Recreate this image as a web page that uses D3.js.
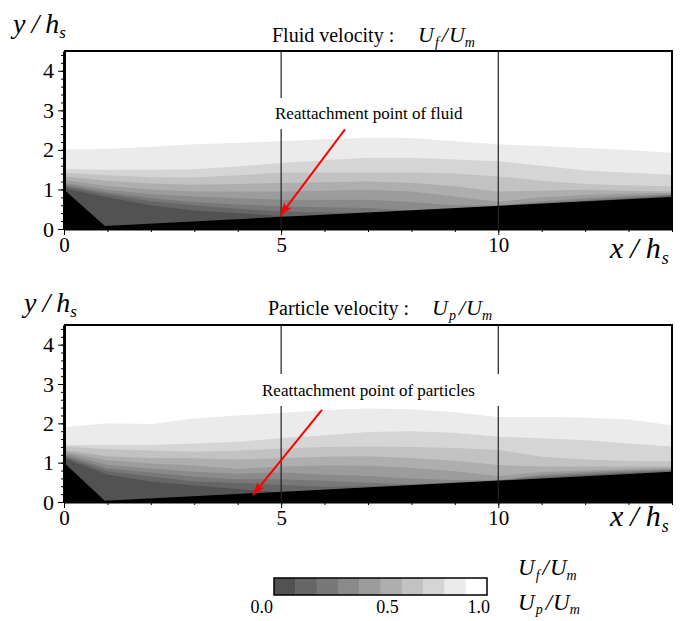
<!DOCTYPE html>
<html><head><meta charset="utf-8">
<script src="https://cdn.jsdelivr.net/npm/d3@7"></script>
<style>
body{margin:0;background:#fff}
svg{display:block}
text{font-family:"Liberation Serif","Times New Roman",serif;fill:#000}
</style>
</head><body>
<svg id="c" width="690" height="621"></svg>
<script>
// ---- data ----
const xStations = [0,1,2,3,4,5,6,7,8,9,10,11,12,13,14];
const levelValues = [0.9,0.8,0.7,0.6,0.5,0.4,0.3,0.2,0.1];
const shadeColors = ["#525252","#666666","#787878","#8a8a8a","#9c9c9c","#aeaeae","#c2c2c2","#d5d5d5","#ebebeb","#ffffff"];
const legendTicks = ["0.0","0.5","1.0"];
const yMajorTicks = [0,1,2,3,4];
const yMinorTicks = d3.range(0,4.51,0.2);
const xMajorTicks = [0,5,10];
const xMinorTicks = d3.range(0,15,1);
const refLines = [5,10];

// fluid velocity contour heights y/hs (U_f/U_m = level) at xStations
const fluid90 = [2.01,2.02,2.08,2.14,2.18,2.22,2.27,2.31,2.30,2.22,2.14,2.10,2.05,2.00,1.93];
const fluid80 = [1.52,1.50,1.50,1.51,1.58,1.67,1.74,1.80,1.80,1.76,1.71,1.60,1.48,1.42,1.37];
const fluid70 = [1.42,1.36,1.31,1.30,1.36,1.42,1.43,1.43,1.43,1.40,1.33,1.22,1.14,1.10,1.08];
const fluid60 = [1.33,1.22,1.15,1.12,1.14,1.16,1.18,1.20,1.17,1.08,0.95,0.97,0.99,0.97,0.95];
const fluid50 = [1.24,1.09,1.00,0.95,0.95,0.95,0.97,0.99,0.95,0.82,0.69,0.80,0.86,0.90,0.91];
const fluid40 = [1.16,0.99,0.88,0.82,0.78,0.74,0.74,0.74,0.68,0.60,0.60,0.70,0.78,0.84,0.88];
const fluid30 = [1.12,0.92,0.78,0.68,0.62,0.57,0.55,0.53,0.47,0.52,0.58,0.66,0.73,0.80,0.86];
const fluid20 = [1.08,0.87,0.70,0.60,0.51,0.44,0.42,0.41,0.44,0.50,0.56,0.64,0.71,0.77,0.84];
const fluid10 = [1.03,0.80,0.60,0.47,0.40,0.33,0.32,0.38,0.42,0.48,0.54,0.62,0.69,0.75,0.82];

// particle velocity contour heights y/hs (U_p/U_m = level)
const part90 = [1.90,2.00,1.98,2.12,2.20,2.26,2.34,2.38,2.36,2.28,2.16,2.16,2.15,2.10,1.95];
const part80 = [1.45,1.45,1.45,1.49,1.53,1.62,1.70,1.78,1.80,1.76,1.66,1.62,1.57,1.49,1.41];
const part70 = [1.41,1.34,1.31,1.28,1.30,1.36,1.40,1.41,1.40,1.37,1.32,1.15,1.08,1.04,1.03];
const part60 = [1.32,1.16,1.12,1.11,1.08,1.11,1.15,1.16,1.12,1.05,0.94,0.90,0.90,0.90,0.90];
const part50 = [1.28,1.06,0.98,0.93,0.84,0.90,0.93,0.92,0.87,0.78,0.66,0.76,0.80,0.84,0.86];
const part40 = [1.24,0.94,0.85,0.77,0.72,0.75,0.70,0.66,0.60,0.56,0.55,0.70,0.76,0.80,0.83];
const part30 = [1.19,0.85,0.75,0.64,0.58,0.58,0.54,0.49,0.45,0.50,0.55,0.66,0.72,0.77,0.81];
const part20 = [1.15,0.78,0.65,0.52,0.48,0.44,0.38,0.40,0.44,0.49,0.54,0.62,0.69,0.74,0.79];
const part10 = [1.11,0.70,0.52,0.42,0.33,0.24,0.30,0.36,0.42,0.47,0.52,0.58,0.64,0.69,0.75];

// wall (step + sloped bed)
const wallX = [0, 0.94, 14];
const fluidWall = [1.0, 0.077, 0.81];
const particleWall = [1.0, 0.03, 0.77];

// reattachment arrows [start, tip] in data units
const fluidArrow = [[6.47,2.52],[4.98,0.34]];
const particleArrow = [[5.94,2.34],[4.35,0.18]];

// ---- drawing ----
const svg = d3.select("#c");
const defs = svg.append("defs");
defs.append("marker").attr("id","ah").attr("viewBox","0 -5 14 10")
  .attr("refX",13).attr("refY",0).attr("markerWidth",14).attr("markerHeight",10)
  .attr("markerUnits","userSpaceOnUse").attr("orient","auto")
  .append("path").attr("d","M0,-4.5L14,0L0,4.5L3,0Z").attr("fill","#ff0000");

function richText(parent, x0, y0, parts) {
  const t = parent.append("text").attr("x", x0).attr("y", y0);
  parts.forEach(p => {
    t.append("tspan").text(p.t)
      .attr("font-size", p.s)
      .attr("font-style", p.i ? "italic" : "normal")
      .attr("dx", p.dx || 0).attr("dy", p.dy || 0);
  });
  return t;
}
function ratio(parent, x0, y0, sub, big, small, drop) {
  const d = drop || 5;
  return richText(parent, x0, y0, [
    {t:"U", s:big, i:true},
    {t:sub, s:small, i:true, dy:d, dx:1},
    {t:"/", s:big, i:true, dy:-d, dx:3},
    {t:"U", s:big, i:true, dx:1},
    {t:"m", s:small, i:true, dy:d}
  ]);
}

function drawPanel(o) {
  const x = d3.scaleLinear().domain([0,14]).range([64,672]);
  const y = d3.scaleLinear().domain([0,4.5]).range([o.bottom, o.top]);
  const g = svg.append("g");
  defs.append("clipPath").attr("id", o.id).append("rect")
    .attr("x", x(0)).attr("y", y(4.5)).attr("width", x(14)-x(0)).attr("height", y(0)-y(4.5));
  const plot = g.append("g").attr("clip-path", `url(#${o.id})`);

  const area = d3.area().x((d,j)=>x(xStations[j])).y0(y(0)).y1(d=>y(d));
  o.bounds.forEach((b,i) => {
    plot.append("path").datum(b).attr("d", area).attr("fill", shadeColors[8-i]);
  });
  const wallArea = d3.area().x((d,j)=>x(wallX[j])).y0(y(0)).y1(d=>y(d));
  plot.append("path").datum(o.wall).attr("d", wallArea).attr("fill", "#000");

  // reference lines
  g.selectAll(null).data(refLines).enter().append("line")
    .attr("x1", d=>x(d)).attr("x2", d=>x(d)).attr("y1", y(4.5)).attr("y2", y(0))
    .attr("stroke", "#222").attr("stroke-width", 1.2);

  // annotation background + text
  g.append("rect").attr("x", o.noteRect[0]).attr("y", o.noteRect[1])
    .attr("width", o.noteRect[2]).attr("height", o.noteRect[3]).attr("fill", "#fff");
  g.append("text").attr("x", o.noteX).attr("y", o.noteY).attr("font-size", 17).text(o.note);

  // arrow
  g.append("line")
    .attr("x1", x(o.arrow[0][0])).attr("y1", y(o.arrow[0][1]))
    .attr("x2", x(o.arrow[1][0])).attr("y2", y(o.arrow[1][1]))
    .attr("stroke", "#ff0000").attr("stroke-width", 2).attr("marker-end", "url(#ah)");

  // frame top/right
  g.append("path")
    .attr("d", `M${x(0)},${y(4.5)}H${x(14)}V${y(0)}`)
    .attr("fill","none").attr("stroke","#000").attr("stroke-width",2);

  // y axis
  const yMin = g.append("g").attr("transform", `translate(${x(0)},0)`)
    .call(d3.axisLeft(y).tickValues(yMinorTicks).tickSize(3).tickSizeOuter(0).tickFormat(""));
  yMin.select(".domain").remove();
  const yMaj = g.append("g").attr("transform", `translate(${x(0)},0)`)
    .call(d3.axisLeft(y).tickValues(yMajorTicks).tickSize(6).tickSizeOuter(0).tickPadding(4).tickFormat(d3.format("d")));
  yMaj.select(".domain").attr("stroke-width", 3);
  yMaj.selectAll("text").attr("font-size", 22).attr("font-family", "Liberation Serif, serif").attr("fill","#000");

  // x axis
  const xMin = g.append("g").attr("transform", `translate(0,${y(0)})`)
    .call(d3.axisBottom(x).tickValues(xMinorTicks).tickSize(3).tickSizeOuter(0).tickFormat(""));
  xMin.select(".domain").attr("stroke-width", 2);
  const xMaj = g.append("g").attr("transform", `translate(0,${y(0)})`)
    .call(d3.axisBottom(x).tickValues(xMajorTicks).tickSize(6).tickSizeOuter(0).tickPadding(2).tickFormat(d3.format("d")));
  xMaj.select(".domain").remove();
  xMaj.selectAll("text").attr("font-size", 21).attr("font-family", "Liberation Serif, serif").attr("fill","#000");

  // titles
  g.append("text").attr("x", o.titleX).attr("y", o.titleY).attr("font-size", 20).text(o.title);
  ratio(g, o.ratioX, o.titleY, o.sub, 22, 14);

  // axis labels
  richText(g, o.ylabX, o.ylabY, [
    {t:"y", s:28, i:true},
    {t:"/", s:28, i:true, dx:6},
    {t:"h", s:28, i:true, dx:6},
    {t:"s", s:17, i:true, dy:5}
  ]);
  richText(g, 610, o.xlabY, [
    {t:"x", s:30, i:true},
    {t:"/", s:30, i:true, dx:7},
    {t:"h", s:30, i:true, dx:7},
    {t:"s", s:18, i:true, dy:6, dx:1}
  ]);
}

drawPanel({
  id:"clipF", top:51, bottom:229,
  bounds:[fluid90,fluid80,fluid70,fluid60,fluid50,fluid40,fluid30,fluid20,fluid10],
  wall:fluidWall, arrow:fluidArrow,
  note:"Reattachment point of fluid", noteX:275, noteY:119, noteRect:[270,98,200,31],
  title:"Fluid velocity :", titleX:272, titleY:42, ratioX:418, sub:"f",
  ylabX:13, ylabY:33, xlabY:258
});
drawPanel({
  id:"clipP", top:325, bottom:502,
  bounds:[part90,part80,part70,part60,part50,part40,part30,part20,part10],
  wall:particleWall, arrow:particleArrow,
  note:"Reattachment point of particles", noteX:262, noteY:396, noteRect:[256,374,250,32],
  title:"Particle velocity :", titleX:268, titleY:315, ratioX:432, sub:"p",
  ylabX:24, ylabY:312, xlabY:526
});

// legend
const ls = d3.scaleLinear().domain([0,1]).range([274,487]);
const lg = svg.append("g");
lg.selectAll(null).data(shadeColors).enter().append("rect")
  .attr("x", (d,i)=>ls(i/10)).attr("y", 578)
  .attr("width", ls(0.1)-ls(0)+0.5).attr("height", 17).attr("fill", d=>d);
lg.append("rect").attr("x", ls(0)).attr("y", 578).attr("width", ls(1)-ls(0)).attr("height", 17)
  .attr("fill","none").attr("stroke","#000").attr("stroke-width",1.5);
const anchors = ["end","middle","end"];
const lx = [ls(0)-1, ls(0.5)+7, ls(1)+3];
lg.selectAll(null).data(legendTicks).enter().append("text")
  .attr("x", (d,i)=>lx[i]).attr("y", 613).attr("text-anchor", (d,i)=>anchors[i])
  .attr("font-size", 18).text(d=>d);
ratio(lg, 518, 575, "f", 23, 14, 5);
ratio(lg, 518, 610, "p", 23, 14, 4);
</script>
</body></html>
